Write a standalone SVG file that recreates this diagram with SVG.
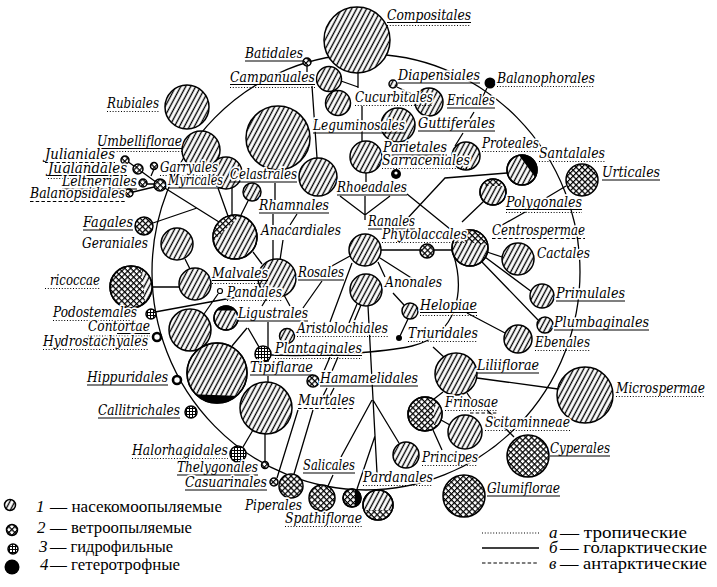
<svg xmlns="http://www.w3.org/2000/svg" width="717" height="587" viewBox="0 0 717 587">
<defs>
<pattern id="p1" patternUnits="userSpaceOnUse" width="4.4" height="10" patternTransform="rotate(28)"><rect x="-1" y="-1" width="6.4" height="12" fill="#fff"/><line x1="2.2" y1="-1" x2="2.2" y2="11" stroke="#000" stroke-width="1.35"/></pattern>
<pattern id="p2" patternUnits="userSpaceOnUse" width="4.2" height="4.2" patternTransform="rotate(45)"><rect x="-1" y="-1" width="6.2" height="6.2" fill="#fff"/><path d="M0,0.6H4.2M0.6,0V4.2" stroke="#000" stroke-width="1.2"/></pattern>
<pattern id="p3" patternUnits="userSpaceOnUse" width="3" height="3"><rect width="3" height="3" fill="#fff"/><path d="M0,0.5H3M0.5,0V3" stroke="#000" stroke-width="1"/></pattern>
<clipPath id="cAna"><circle cx="235" cy="237" r="22"/></clipPath>
<clipPath id="cTri"><circle cx="131" cy="287" r="21"/></clipPath>
<clipPath id="cCen"><circle cx="470" cy="248" r="18"/></clipPath>
<clipPath id="cPol"><circle cx="493" cy="192" r="13"/></clipPath>
<clipPath id="cPar"><circle cx="378" cy="505" r="15"/></clipPath>
<clipPath id="cSml"><circle cx="352" cy="498" r="9"/></clipPath>
<clipPath id="cFri"><circle cx="425" cy="414" r="17"/></clipPath>
<clipPath id="cLig"><circle cx="226" cy="318" r="12"/></clipPath>
<clipPath id="cTub"><circle cx="217" cy="373" r="30"/></clipPath>
<clipPath id="cSan"><circle cx="522" cy="170" r="15"/></clipPath>
</defs>
<style>
.n{stroke:#000;stroke-width:1.5}
.h{fill:url(#p1)}
.w{fill:url(#p2)}
.g{fill:url(#p3)}
.k{fill:#000}
.o{fill:none;stroke:#000;stroke-width:1.5}
.t{font-family:"DejaVu Serif","Liberation Serif",serif;font-style:italic;font-size:14px;fill:#000;stroke:#fff;stroke-width:3.5px;stroke-linejoin:round;paint-order:stroke}
.us{stroke:#000;stroke-width:1.1}
.ud{stroke:#000;stroke-width:1.2;stroke-dasharray:1 1.8}
.ua{stroke:#000;stroke-width:1.1;stroke-dasharray:3.5 2.2}
#connectors *{fill:none;stroke:#000;stroke-width:1.3}
.lg{font-family:"Liberation Serif","Times New Roman",serif;font-size:17px;fill:#000}
.li{font-family:"Liberation Serif","Times New Roman",serif;font-size:17px;font-style:italic;fill:#000}
</style>
<rect width="717" height="587" fill="#fff"/>
<g id="connectors">
<ellipse cx="366" cy="272" rx="214" ry="218"/>
<path d="M452,250 C466,290 458,335 412,346 C385,352 320,357 271,355"/>
<path d="M307,66V72M341,81L358,87M358,73V88M362,106V141M312,86L317,158M397,87L416,96M487,88L480,102M474,112L468,122M463,133L455,146"/>
<path d="M507,173L445,178L405,221M407,194L450,229M340,196L365,215L390,196M365,196V220M366,173V182M484,201L462,222M502,225L527,211M566,186L546,198"/>
<path d="M381,250H452M378,262L385,277M380,258L413,279M350,256L330,267M352,263L330,322M487,252L502,257M485,257L532,292M482,262L538,320M467,313L505,333M393,293L404,305M408,319L400,336M433,347L445,358"/>
<path d="M477,378L558,389M443,392L434,399M467,393L473,402M441,420L450,425M433,430L442,450M487,410L514,437"/>
<path d="M368,306L377,473M372,400L341,457M373,400L399,443M375,436L357,489M333,475L328,486M357,304L349,323M361,305L353,324M330,357L324,371M338,357L332,371M327,388L323,396M334,388L330,396M298,410L277,478M313,410L294,474"/>
<path d="M253,430L243,447M265,434V461M268,376V382M268,322V362M248,328L259,347M247,328L232,346M268,296L262,306M284,295L290,306M322,281L303,308M155,312L248,295M218,294L204,314M152,287H179M185,259L190,269"/>
<path d="M253,252L262,264M273,240V260M283,240L280,260M273,214V225M297,214L290,225M275,183V200M218,188L228,216M232,188V215M248,201L240,217M127,161L138,169L160,185L219,222M153,223L197,208M133,192L154,187M147,184H154M154,169L151,176"/>
</g>
<g id="Compositales"><circle class="n h" cx="357" cy="40" r="33"/><text class="t" x="387" y="20" textLength="84" lengthAdjust="spacingAndGlyphs">Compositales</text><line class="us" x1="387" y1="22.5" x2="471" y2="22.5"/><line class="ud" x1="387" y1="25.5" x2="471" y2="25.5"/></g>
<g id="Batidales"><circle class="n w" cx="307" cy="62" r="4"/><text class="t" x="245" y="58" textLength="58" lengthAdjust="spacingAndGlyphs">Batidales</text><line class="us" x1="245" y1="61" x2="303" y2="61"/></g>
<g id="Campanuales"><circle class="n h" cx="329" cy="79" r="12.5"/><text class="t" x="230" y="82" textLength="85" lengthAdjust="spacingAndGlyphs">Campanuales</text><line class="us" x1="230" y1="84.5" x2="315" y2="84.5"/><line class="ud" x1="230" y1="87.5" x2="315" y2="87.5"/></g>
<g id="Diapensiales"><circle class="n h" cx="393" cy="84" r="4"/><text class="t" x="398" y="80" textLength="82" lengthAdjust="spacingAndGlyphs">Diapensiales</text><line class="us" x1="398" y1="83" x2="480" y2="83"/></g>
<g id="Balanophorales"><circle class="k" cx="490" cy="83" r="5.5"/><text class="t" x="497" y="83" textLength="98" lengthAdjust="spacingAndGlyphs">Balanophorales</text><line class="ud" x1="497" y1="86.5" x2="595" y2="86.5"/></g>
<g id="Rubiales"><circle class="n h" cx="187" cy="107" r="22"/><text class="t" x="107" y="108" textLength="52" lengthAdjust="spacingAndGlyphs">Rubiales</text><line class="ud" x1="107" y1="111.5" x2="159" y2="111.5"/></g>
<g id="Ericales"><circle class="n h" cx="429" cy="102" r="14"/><text class="t" x="447" y="105" textLength="48" lengthAdjust="spacingAndGlyphs">Ericales</text><line class="us" x1="447" y1="108" x2="495" y2="108"/></g>
<g id="Cucurbitales"><circle class="n h" cx="338" cy="103" r="12.5"/><text class="t" x="355" y="102" textLength="78" lengthAdjust="spacingAndGlyphs">Cucurbitales</text><line class="ud" x1="355" y1="105.5" x2="433" y2="105.5"/></g>
<g id="Guttiferales"><circle class="n h" cx="398" cy="125" r="17"/><text class="t" x="418" y="128" textLength="77" lengthAdjust="spacingAndGlyphs">Guttiferales</text><line class="us" x1="418" y1="131" x2="495" y2="131"/></g>
<g id="Leguminosales"><circle class="n h" cx="278" cy="138" r="32"/><text class="t" x="313" y="130" textLength="92" lengthAdjust="spacingAndGlyphs">Leguminosales</text><line class="us" x1="313" y1="133" x2="405" y2="133"/></g>
<g id="Umbelliflorae"><circle class="n h" cx="201" cy="150" r="19"/><text class="t" x="97" y="146" textLength="85" lengthAdjust="spacingAndGlyphs">Umbelliflorae</text><line class="us" x1="97" y1="148.5" x2="182" y2="148.5"/><line class="ud" x1="97" y1="151.5" x2="182" y2="151.5"/></g>
<g id="Julianiales"><circle class="n w" cx="125" cy="160" r="4"/><text class="t" x="45" y="159" textLength="70" lengthAdjust="spacingAndGlyphs">Julianiales</text><line class="ua" x1="45" y1="162.5" x2="115" y2="162.5"/></g>
<g id="Juglandales"><circle class="n w" cx="138" cy="169" r="5"/><text class="t" x="48" y="173" textLength="79" lengthAdjust="spacingAndGlyphs">Juglandales</text><line class="us" x1="48" y1="175.5" x2="127" y2="175.5"/><line class="ud" x1="48" y1="178.5" x2="127" y2="178.5"/></g>
<g id="Celastrales"><circle class="n h" cx="226" cy="173" r="16"/><text class="t" x="230" y="179" textLength="67" lengthAdjust="spacingAndGlyphs">Celastrales</text><line class="us" x1="230" y1="182" x2="297" y2="182"/></g>
<g id="Garryales"><circle class="n w" cx="154" cy="166" r="3.5"/><text class="t" x="160" y="172" textLength="58" lengthAdjust="spacingAndGlyphs">Garryales</text><line class="ud" x1="160" y1="175.5" x2="218" y2="175.5"/></g>
<g id="Leitneriales"><circle class="n w" cx="143" cy="183" r="4"/><text class="t" x="62" y="186" textLength="75" lengthAdjust="spacingAndGlyphs">Leltneriales</text><line class="us" x1="62" y1="189" x2="137" y2="189"/></g>
<g id="Myricales"><circle class="n w" cx="160" cy="185" r="6"/><text class="t" x="168" y="185" textLength="55" lengthAdjust="spacingAndGlyphs">Myricales</text><line class="us" x1="168" y1="188" x2="223" y2="188"/></g>
<g id="Balanopsidales"><circle class="n w" cx="129" cy="193" r="4"/><text class="t" x="30" y="198" textLength="95" lengthAdjust="spacingAndGlyphs">Balanopsidales</text><line class="ua" x1="30" y1="201.5" x2="125" y2="201.5"/></g>
<g id="Parietales"><circle class="n h" cx="366" cy="157" r="16"/><text class="t" x="383" y="152" textLength="64" lengthAdjust="spacingAndGlyphs">Parietales</text><line class="us" x1="383" y1="155" x2="447" y2="155"/></g>
<g id="Proteales"><circle class="n h" cx="466" cy="156" r="14"/><text class="t" x="482" y="148" textLength="57" lengthAdjust="spacingAndGlyphs">Proteales</text><line class="ud" x1="482" y1="151.5" x2="539" y2="151.5"/></g>
<g id="Sarraceniales"><circle class="k" cx="396" cy="174" r="5"/><circle cx="396" cy="173" r="1.6" fill="#fff"/><text class="t" x="382" y="165" textLength="88" lengthAdjust="spacingAndGlyphs">Sarraceniales</text><line class="ud" x1="382" y1="168.5" x2="470" y2="168.5"/></g>
<g id="Santalales"><circle class="n h" cx="522" cy="170" r="15"/><path class="k" clip-path="url(#cSan)" d="M519,155.3 A15,15 0 0 1 535,177 Z"/><circle class="o" cx="522" cy="170" r="15"/><text class="t" x="539" y="158" textLength="66" lengthAdjust="spacingAndGlyphs">Santalales</text><line class="ud" x1="539" y1="161.5" x2="605" y2="161.5"/></g>
<g id="Urticales"><circle class="n w" cx="582" cy="180" r="16"/><text class="t" x="602" y="177" textLength="58" lengthAdjust="spacingAndGlyphs">Urticales</text><line class="us" x1="602" y1="180" x2="660" y2="180"/></g>
<g id="Rhoeadales"><circle class="n h" cx="318" cy="177" r="19"/><text class="t" x="337" y="192" textLength="70" lengthAdjust="spacingAndGlyphs">Rhoeadales</text><line class="us" x1="337" y1="195" x2="407" y2="195"/></g>
<g id="Rhamnales"><circle class="n h" cx="252" cy="192" r="9"/><text class="t" x="259" y="210" textLength="70" lengthAdjust="spacingAndGlyphs">Rhamnales</text><line class="us" x1="259" y1="213" x2="329" y2="213"/></g>
<g id="Polygonales"><circle class="n h" cx="493" cy="192" r="13"/><rect clip-path="url(#cPol)" x="478" y="176" width="30" height="10" class="w"/><circle class="o" cx="493" cy="192" r="13"/><text class="t" x="506" y="207" textLength="76" lengthAdjust="spacingAndGlyphs">Polygonales</text><line class="us" x1="506" y1="209.5" x2="582" y2="209.5"/><line class="ud" x1="506" y1="212.5" x2="582" y2="212.5"/></g>
<g id="Fagales"><circle class="n w" cx="144" cy="226" r="9"/><text class="t" x="83" y="227" textLength="50" lengthAdjust="spacingAndGlyphs">Fagales</text><line class="us" x1="83" y1="230" x2="133" y2="230"/></g>
<g id="Ranales"><circle class="n h" cx="365" cy="250" r="16"/><text class="t" x="368" y="226" textLength="47" lengthAdjust="spacingAndGlyphs">Ranales</text><line class="us" x1="368" y1="229" x2="415" y2="229"/></g>
<g id="Centrospermae"><circle class="n h" cx="470" cy="248" r="18"/><path clip-path="url(#cCen)" class="w" d="M458,228H492V246L462,241Z"/><circle class="o" cx="470" cy="248" r="18"/><text class="t" x="492" y="235" textLength="93" lengthAdjust="spacingAndGlyphs">Centrospermae</text><line class="ua" x1="492" y1="238.5" x2="585" y2="238.5"/></g>
<g id="Anacardiales"><circle class="n h" cx="235" cy="237" r="22"/><path clip-path="url(#cAna)" class="w" d="M205,205H245L240,216L211,243H205Z"/><circle class="o" cx="235" cy="237" r="22"/><text class="t" x="261" y="235" textLength="80" lengthAdjust="spacingAndGlyphs">Anacardiales</text></g>
<g id="Phytolaccales"><circle class="n w" cx="427" cy="251" r="7"/><text class="t" x="382" y="239" textLength="85" lengthAdjust="spacingAndGlyphs">Phytolaccales</text><line class="ud" x1="382" y1="242.5" x2="467" y2="242.5"/></g>
<g id="Geraniales"><circle class="n h" cx="177" cy="244" r="16"/><text class="t" x="82" y="248" textLength="66" lengthAdjust="spacingAndGlyphs">Geraniales</text></g>
<g id="Cactales"><circle class="n h" cx="518" cy="259" r="16"/><text class="t" x="537" y="258" textLength="53" lengthAdjust="spacingAndGlyphs">Cactales</text></g>
<g id="Tricoccae"><circle class="n w" cx="131" cy="287" r="21"/><path clip-path="url(#cTri)" class="h" d="M141,262H156V312H146Z"/><circle class="o" cx="131" cy="287" r="21"/><text class="t" x="50" y="285" textLength="50" lengthAdjust="spacingAndGlyphs">ricoccae</text><line class="ud" x1="45" y1="288.5" x2="100" y2="288.5"/></g>
<g id="Rosales"><circle class="n h" cx="277" cy="278" r="19"/><text class="t" x="298" y="277" textLength="46" lengthAdjust="spacingAndGlyphs">Rosales</text><line class="us" x1="298" y1="280" x2="344" y2="280"/></g>
<g id="Malvales"><circle class="n h" cx="195" cy="284" r="16"/><text class="t" x="212" y="278" textLength="56" lengthAdjust="spacingAndGlyphs">Malvales</text><line class="us" x1="212" y1="280.5" x2="268" y2="280.5"/><line class="ud" x1="212" y1="283.5" x2="268" y2="283.5"/></g>
<g id="Anonales"><circle class="n h" cx="366" cy="290" r="16"/><text class="t" x="385" y="287" textLength="57" lengthAdjust="spacingAndGlyphs">Anonales</text></g>
<g id="Pandales"><circle cx="220" cy="291" r="2.5" fill="#fff" stroke="#000" stroke-width="1.2"/><text class="t" x="227" y="297" textLength="55" lengthAdjust="spacingAndGlyphs">Pandales</text><line class="ud" x1="227" y1="300.5" x2="282" y2="300.5"/></g>
<g id="Primulales"><circle class="n h" cx="542" cy="296" r="12"/><text class="t" x="556" y="298" textLength="69" lengthAdjust="spacingAndGlyphs">Primulales</text><line class="us" x1="556" y1="301" x2="625" y2="301"/></g>
<g id="Helopiae"><circle class="n h" cx="410" cy="311" r="8"/><text class="t" x="420" y="310" textLength="57" lengthAdjust="spacingAndGlyphs">Helopiae</text><line class="us" x1="420" y1="312.5" x2="477" y2="312.5"/><line class="ud" x1="420" y1="315.5" x2="477" y2="315.5"/></g>
<g id="Podostemales"><circle class="n g" cx="151" cy="314" r="5"/><text class="t" x="53" y="317" textLength="84" lengthAdjust="spacingAndGlyphs">Podostemales</text><line class="ud" x1="53" y1="320.5" x2="137" y2="320.5"/></g>
<g id="Ligustrales"><circle class="n h" cx="226" cy="318" r="12"/><rect clip-path="url(#cLig)" class="k" x="212" y="304" width="28" height="6.5"/><circle class="o" cx="226" cy="318" r="12"/><text class="t" x="238" y="318" textLength="70" lengthAdjust="spacingAndGlyphs">Ligustrales</text><line class="us" x1="238" y1="321" x2="308" y2="321"/></g>
<g id="Plumbaginales"><circle class="n h" cx="545" cy="325" r="8"/><text class="t" x="554" y="327" textLength="95" lengthAdjust="spacingAndGlyphs">Plumbaginales</text><line class="us" x1="554" y1="330" x2="649" y2="330"/></g>
<g id="Contortae"><circle class="n h" cx="190" cy="330" r="21"/><text class="t" x="88" y="331" textLength="62" lengthAdjust="spacingAndGlyphs">Contortae</text><line class="us" x1="117" y1="333.5" x2="150" y2="333.5"/><line class="ud" x1="88" y1="336" x2="150" y2="336"/></g>
<g id="Aristolochiales"><circle class="n h" cx="287" cy="336" r="7.5"/><text class="t" x="297" y="333" textLength="91" lengthAdjust="spacingAndGlyphs">Aristolochiales</text><line class="ud" x1="297" y1="336.5" x2="388" y2="336.5"/></g>
<g id="Triuridales"><circle class="k" cx="399" cy="338" r="3"/><text class="t" x="408" y="338" textLength="70" lengthAdjust="spacingAndGlyphs">Triuridales</text><line class="ud" x1="408" y1="341.5" x2="478" y2="341.5"/></g>
<g id="Hydrostachyales"><circle cx="157" cy="337" r="4" fill="#fff" stroke="#000" stroke-width="2.6"/><text class="t" x="43" y="346" textLength="105" lengthAdjust="spacingAndGlyphs">Hydrostachyales</text><line class="ud" x1="43" y1="349.5" x2="148" y2="349.5"/></g>
<g id="Ebenales"><circle class="n h" cx="518" cy="339" r="14"/><text class="t" x="535" y="347" textLength="55" lengthAdjust="spacingAndGlyphs">Ebenales</text><line class="ud" x1="535" y1="350.5" x2="590" y2="350.5"/></g>
<g id="Plantaginales"><circle class="n g" cx="263" cy="354" r="8"/><text class="t" x="275" y="353" textLength="87" lengthAdjust="spacingAndGlyphs">Plantaginales</text><line class="us" x1="275" y1="355.5" x2="362" y2="355.5"/><line class="ud" x1="275" y1="358.5" x2="362" y2="358.5"/></g>
<g id="Liliiflorae"><circle class="n h" cx="456" cy="374" r="21"/><text class="t" x="477" y="370" textLength="62" lengthAdjust="spacingAndGlyphs">Liliiflorae</text><line class="us" x1="477" y1="373" x2="539" y2="373"/></g>
<g id="Tubiflorae"><circle class="n h" cx="217" cy="373" r="30"/><path clip-path="url(#cTub)" class="k" d="M185,394L240,396V410H185Z"/><circle class="o" cx="217" cy="373" r="30"/><text class="t" x="250" y="372" textLength="63" lengthAdjust="spacingAndGlyphs">Tipiflarae</text><line class="us" x1="250" y1="375" x2="313" y2="375"/></g>
<g id="Hippuridales"><circle cx="177" cy="380" r="4" fill="#fff" stroke="#000" stroke-width="2.6"/><text class="t" x="87" y="382" textLength="81" lengthAdjust="spacingAndGlyphs">Hippuridales</text><line class="us" x1="87" y1="385" x2="168" y2="385"/></g>
<g id="Hamamelidales"><circle class="n w" cx="313" cy="381" r="6"/><text class="t" x="320" y="383" textLength="98" lengthAdjust="spacingAndGlyphs">Hamamelidales</text><line class="us" x1="320" y1="386" x2="418" y2="386"/></g>
<g id="Microspermae"><circle class="n h" cx="585" cy="395" r="28"/><text class="t" x="616" y="393" textLength="89" lengthAdjust="spacingAndGlyphs">Microspermae</text><line class="ud" x1="616" y1="396.5" x2="705" y2="396.5"/></g>
<g id="Murtales"><circle class="n h" cx="266" cy="408" r="26"/><text class="t" x="298" y="405" textLength="57" lengthAdjust="spacingAndGlyphs">Murtales</text><line class="ua" x1="298" y1="408.5" x2="355" y2="408.5"/></g>
<g id="Frinosae"><circle class="n w" cx="425" cy="414" r="17"/><rect clip-path="url(#cFri)" class="h" x="434" y="405" width="10" height="20"/><circle class="o" cx="425" cy="414" r="17"/><text class="t" x="445" y="407" textLength="53" lengthAdjust="spacingAndGlyphs">Frinosae</text><line class="ud" x1="445" y1="410.5" x2="498" y2="410.5"/><line class="ua" x1="470" y1="413" x2="498" y2="413"/></g>
<g id="Callitrichales"><circle class="n g" cx="191" cy="412" r="6"/><text class="t" x="98" y="415" textLength="82" lengthAdjust="spacingAndGlyphs">Callitrichales</text><line class="us" x1="98" y1="418" x2="180" y2="418"/></g>
<g id="Scitaminneae"><circle class="n h" cx="465" cy="432" r="17"/><text class="t" x="485" y="427" textLength="85" lengthAdjust="spacingAndGlyphs">Scitaminneae</text><line class="ud" x1="485" y1="430.5" x2="570" y2="430.5"/></g>
<g id="Cyperales"><circle class="n w" cx="528" cy="456" r="21"/><text class="t" x="550" y="453" textLength="60" lengthAdjust="spacingAndGlyphs">Cyperales</text><line class="us" x1="550" y1="456" x2="610" y2="456"/></g>
<g id="Halorhagidales"><circle class="n g" cx="238" cy="454" r="8"/><text class="t" x="132" y="455" textLength="96" lengthAdjust="spacingAndGlyphs">Halorhagidales</text><line class="ud" x1="132" y1="458.5" x2="228" y2="458.5"/></g>
<g id="Principes"><circle class="n h" cx="406" cy="455" r="13"/><text class="t" x="422" y="462" textLength="56" lengthAdjust="spacingAndGlyphs">Principes</text><line class="ud" x1="422" y1="465.5" x2="478" y2="465.5"/></g>
<g id="Salicales"><circle class="n w" cx="352" cy="498" r="9"/><rect clip-path="url(#cSml)" class="k" x="355" y="488" width="8" height="20"/><circle class="o" cx="352" cy="498" r="9"/><text class="t" x="303" y="470" textLength="52" lengthAdjust="spacingAndGlyphs">Salicales</text><line class="us" x1="303" y1="473" x2="355" y2="473"/></g>
<g id="Thelygonales"><circle class="n w" cx="265" cy="465" r="3.5"/><text class="t" x="177" y="472" textLength="81" lengthAdjust="spacingAndGlyphs">Thelygonales</text><line class="us" x1="177" y1="475" x2="258" y2="475"/></g>
<g id="Pardanales"><circle class="n h" cx="378" cy="505" r="15"/><rect clip-path="url(#cPar)" class="w" x="362" y="510" width="32" height="12"/><circle class="o" cx="378" cy="505" r="15"/><text class="t" x="363" y="482" textLength="70" lengthAdjust="spacingAndGlyphs">Pardanales</text><line class="ud" x1="363" y1="485.5" x2="433" y2="485.5"/></g>
<g id="Casuarinales"><circle class="n w" cx="274" cy="482" r="4"/><text class="t" x="185" y="487" textLength="82" lengthAdjust="spacingAndGlyphs">Casuarinales</text><line class="us" x1="185" y1="490" x2="267" y2="490"/></g>
<g id="Glumiflorae"><circle class="n w" cx="464" cy="496" r="21"/><text class="t" x="487" y="493" textLength="73" lengthAdjust="spacingAndGlyphs">Glumiflorae</text><line class="us" x1="487" y1="496" x2="560" y2="496"/></g>
<g id="Piperales"><circle class="n w" cx="291" cy="486" r="12"/><text class="t" x="245" y="510" textLength="57" lengthAdjust="spacingAndGlyphs">Piperales</text></g>
<g id="Spathiflorae"><circle class="n w" cx="322" cy="498" r="13"/><text class="t" x="285" y="523" textLength="77" lengthAdjust="spacingAndGlyphs">Spathiflorae</text><line class="ud" x1="285" y1="526.5" x2="362" y2="526.5"/></g>
<g id="legend">
<circle class="n h" cx="10" cy="505" r="5.5"/><text class="li" x="36" y="512">1</text><text class="lg" x="50" y="512" textLength="172" lengthAdjust="spacingAndGlyphs">— насекомоопыляемые</text>
<circle class="n w" cx="12" cy="530" r="5.5"/><text class="li" x="37" y="533">2</text><text class="lg" x="50" y="533" textLength="142" lengthAdjust="spacingAndGlyphs">— ветроопыляемые</text>
<circle class="n g" cx="13" cy="549" r="5"/><text class="li" x="39" y="552">3</text><text class="lg" x="50" y="552" textLength="123" lengthAdjust="spacingAndGlyphs">— гидрофильные</text>
<circle class="k" cx="12" cy="567" r="7.5"/><text class="li" x="40" y="570">4</text><text class="lg" x="50" y="570" textLength="130" lengthAdjust="spacingAndGlyphs">— гетеротрофные</text>
<line class="ud" x1="482" y1="533" x2="539" y2="533"/><text class="li" x="549" y="538">а</text><text class="lg" x="560" y="538" textLength="127" lengthAdjust="spacingAndGlyphs">— тропические</text>
<line x1="482" y1="548" x2="539" y2="548" stroke="#000" stroke-width="1.6"/><text class="li" x="549" y="553">б</text><text class="lg" x="560" y="553" textLength="147" lengthAdjust="spacingAndGlyphs">— голарктические</text>
<line class="ua" x1="482" y1="563" x2="539" y2="563"/><text class="li" x="549" y="569">в</text><text class="lg" x="560" y="569" textLength="147" lengthAdjust="spacingAndGlyphs">— антарктические</text>
</g>
</svg>
